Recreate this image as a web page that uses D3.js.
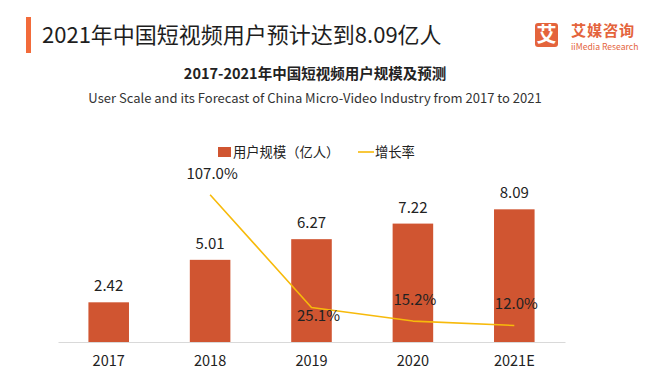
<!DOCTYPE html>
<html>
<head>
<meta charset="utf-8">
<script src="https://cdn.jsdelivr.net/npm/d3@7"></script>
<style>
  html, body { margin: 0; padding: 0; background: #fff; }
  svg { display: block; font-family: "Noto Sans CJK SC", "Noto Sans", sans-serif; }
</style>
</head>
<body>
<svg id="chart" width="660" height="376"></svg>
<script>
const categories = ["2017", "2018", "2019", "2020", "2021E"];
const users = [2.42, 5.01, 6.27, 7.22, 8.09];           // 用户规模（亿人）
const growthYears = ["2018", "2019", "2020", "2021E"];
const growth = [107.0, 25.1, 15.2, 12.0];              // 增长率 (%)
const userTicks = [0, 9];
const growthTicks = [0, 110];

const barColor = "#D05531";
const lineColor = "#F7BA0B";
const brand = "#E4643C";

const svg = d3.select("#chart");

// Header
svg.append("rect").attr("x", 26).attr("y", 17).attr("width", 5).attr("height", 36).attr("fill", "#F26B3A");
svg.append("text").attr("x", 42).attr("y", 42.5)
  .attr("font-size", 22).attr("fill", "#1e1e1e")
  .text("2021年中国短视频用户预计达到8.09亿人");

// Logo
const logo = svg.append("g");
logo.append("rect").attr("x", 535).attr("y", 23).attr("width", 23).attr("height", 24).attr("rx", 3).attr("fill", brand);
logo.append("text").attr("x", 546.5).attr("y", 42).attr("text-anchor", "middle")
  .attr("font-size", 20).attr("font-weight", "bold").attr("fill", "#fff").text("艾");
logo.append("text").attr("x", 571).attr("y", 35.5).attr("font-size", 15.2).attr("font-weight", "bold")
  .attr("fill", brand).attr("letter-spacing", 0.8).text("艾媒咨询");
logo.append("text").attr("x", 571).attr("y", 50).attr("font-size", 8.6)
  .attr("fill", brand).text("iiMedia Research");

// Subtitles
svg.append("text").attr("x", 315).attr("y", 78.5).attr("text-anchor", "middle")
  .attr("font-size", 14.5).attr("font-weight", "bold").attr("fill", "#222")
  .text("2017-2021年中国短视频用户规模及预测");
svg.append("text").attr("x", 315).attr("y", 103).attr("text-anchor", "middle")
  .attr("font-size", 13).attr("fill", "#333")
  .text("User Scale and its Forecast of China Micro-Video Industry from 2017 to 2021");

// Scales
const x = d3.scaleBand().domain(categories).range([58, 565]).paddingInner(0.6).paddingOuter(0.3);
const y = d3.scaleLinear().domain(userTicks).range([342, 194.4]);
const y2 = d3.scaleLinear().domain(growthTicks).range([342, 190.6]);

// X axis
const xAxis = svg.append("g").attr("transform", "translate(0,342)")
  .call(d3.axisBottom(x).tickSize(0).tickPadding(14));
xAxis.select(".domain").attr("stroke", "#d9d9d9").attr("stroke-width", 1);
xAxis.selectAll("text").attr("font-size", 14.5).attr("fill", "#222")
  .attr("font-family", "'Noto Sans CJK SC', sans-serif");

// Bars
svg.append("g").selectAll("rect").data(users).join("rect")
  .attr("x", (d, i) => x(categories[i]))
  .attr("width", x.bandwidth())
  .attr("y", d => y(d))
  .attr("height", d => y(0) - y(d))
  .attr("fill", barColor);

svg.append("g").selectAll("text").data(users).join("text")
  .attr("x", (d, i) => x(categories[i]) + x.bandwidth() / 2)
  .attr("y", d => y(d) - 11)
  .attr("text-anchor", "middle")
  .attr("font-size", 15).attr("fill", "#222")
  .text(d => d.toFixed(2));

// Growth line
const cx = c => x(c) + x.bandwidth() / 2;
const line = d3.line()
  .x((d, i) => cx(growthYears[i]))
  .y(d => y2(d))
  .curve(d3.curveLinear);
svg.append("path").datum(growth)
  .attr("d", line).attr("fill", "none")
  .attr("stroke", lineColor).attr("stroke-width", 1.6)
  .attr("stroke-linejoin", "round");

svg.append("g").selectAll("text").data(growth).join("text")
  .attr("x", (d, i) => cx(growthYears[i]) + (i === 1 ? 7 : 2))
  .attr("y", (d, i) => y2(d) + (i === 1 ? 14 : -16))
  .attr("text-anchor", "middle")
  .attr("font-size", 15).attr("fill", "#222")
  .text(d => d.toFixed(1) + "%");

// Legend
const lg = svg.append("g");
lg.append("rect").attr("x", 218).attr("y", 147).attr("width", 13).attr("height", 10).attr("fill", barColor);
lg.append("text").attr("x", 233).attr("y", 157).attr("font-size", 13.3).attr("fill", "#222").text("用户规模（亿人）");
lg.append("line").attr("x1", 358).attr("x2", 374).attr("y1", 152).attr("y2", 152)
  .attr("stroke", lineColor).attr("stroke-width", 1.6);
lg.append("text").attr("x", 375).attr("y", 157).attr("font-size", 13.3).attr("fill", "#222").text("增长率");
</script>
</body>
</html>
